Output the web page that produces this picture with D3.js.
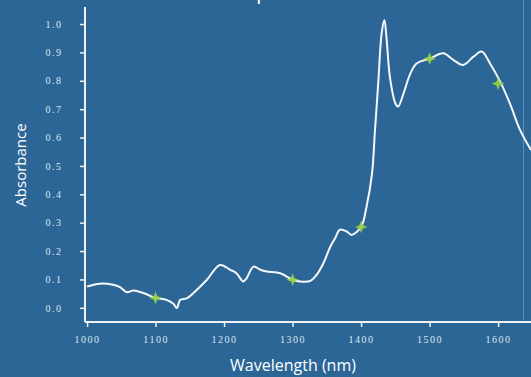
<!DOCTYPE html>
<html>
<head>
<meta charset="utf-8">
<script src="https://cdn.jsdelivr.net/npm/d3@7"></script>
<style>
  html, body { margin: 0; padding: 0; background: #2d6798; }
  svg { display: block; }
</style>
</head>
<body>
<div id="chart"></div>
<script>
// Spectrum
const wavelengths = [1000, 1019, 1038, 1048, 1058, 1068, 1082, 1100, 1116, 1126, 1131, 1136, 1146, 1160, 1175, 1194,
  1209, 1218, 1228, 1233, 1243, 1253, 1262, 1282, 1300, 1311, 1326, 1335, 1345, 1355, 1362, 1369, 1379, 1386, 1400,
  1408, 1416, 1420, 1425, 1430, 1434, 1437, 1442, 1450, 1454, 1462, 1472, 1481, 1500, 1520, 1535, 1549, 1564, 1576,
  1588, 1603, 1617, 1632, 1648];
const absorbance = [0.075, 0.085, 0.081, 0.073, 0.055, 0.061, 0.052, 0.035, 0.028, 0.014, -0.001, 0.028, 0.034, 0.063, 0.099, 0.151,
  0.134, 0.122, 0.093, 0.105, 0.145, 0.134, 0.128, 0.122, 0.099, 0.093, 0.095, 0.116, 0.157, 0.215, 0.245, 0.275, 0.269, 0.257, 0.285,
  0.357, 0.474, 0.615, 0.791, 0.967, 1.014, 0.955, 0.814, 0.721, 0.709, 0.756, 0.826, 0.861, 0.878, 0.897, 0.873, 0.856, 0.885, 0.903,
  0.862, 0.797, 0.721, 0.627, 0.556];

// Highlighted wavelengths (green stars)
const markerWavelengths = [1100, 1300, 1400, 1500, 1600];
const markerValues = [0.035, 0.099, 0.285, 0.878, 0.79];

const xTicks = [1000, 1100, 1200, 1300, 1400, 1500, 1600];
const yTicks = [0, 0.1, 0.2, 0.3, 0.4, 0.5, 0.6, 0.7, 0.8, 0.9, 1.0];

const width = 531, height = 377;

const svg = d3.select('#chart').append('svg')
    .attr('width', width)
    .attr('height', height);

svg.append('rect')
    .attr('width', width)
    .attr('height', height)
    .attr('fill', '#2c6697');

const x = d3.scaleLinear().domain([997, 1648]).range([85, 531]);
const y = d3.scaleLinear().domain([-0.05, 1.06]).range([322, 7]);

// title, cropped by the top edge in the source; only a descender shows
svg.append('text')
    .attr('x', 244)
    .attr('y', -1)
    .attr('fill', '#ffffff')
    .style('font-family', '"Open Sans", sans-serif')
    .style('font-size', '22px')
    .text('Spectrum');

// faint frame line on the right
svg.append('line')
    .attr('x1', 523.5).attr('x2', 523.5)
    .attr('y1', 0).attr('y2', 320)
    .attr('stroke', '#5f8fb8')
    .attr('stroke-width', 1);

// axes
const xAxis = svg.append('g')
    .attr('transform', 'translate(0,322)')
    .call(d3.axisBottom(x).tickValues(xTicks).tickSize(5).tickPadding(9)
        .tickFormat(d3.format('d')).tickSizeOuter(0));
const yAxis = svg.append('g')
    .attr('transform', 'translate(85,0)')
    .call(d3.axisLeft(y).tickValues(yTicks).tickSize(5).tickPadding(20)
        .tickFormat(d3.format('.1f')).tickSizeOuter(0));

[xAxis, yAxis].forEach(function(ax) {
    ax.select('.domain').attr('stroke', '#eef3f8').attr('stroke-width', 2);
    ax.selectAll('.tick line').attr('stroke', '#eef3f8').attr('stroke-width', 1.5);
    ax.selectAll('.tick text')
        .attr('fill', '#dde7f0')
        .style('font-family', '"Liberation Serif", serif')
        .style('font-size', '10px')
        .style('letter-spacing', '1.5px');
});
yAxis.selectAll('.tick text').attr('text-anchor', 'middle').attr('x', -31);
xAxis.select('.domain').attr('d', 'M85,0H531');
yAxis.select('.domain').attr('d', 'M0,7V322');

// axis titles
svg.append('text')
    .attr('x', 293)
    .attr('y', 371)
    .attr('text-anchor', 'middle')
    .attr('fill', '#ffffff')
    .style('font-family', '"Open Sans", sans-serif')
    .style('font-size', '16px')
    .text('Wavelength (nm)');

svg.append('text')
    .attr('transform', 'translate(26,165) rotate(-90)')
    .attr('text-anchor', 'middle')
    .attr('fill', '#ffffff')
    .style('font-family', '"Open Sans", sans-serif')
    .style('font-size', '15px')
    .text('Absorbance');

// spectrum line
const points = wavelengths.map(function(w, i) { return [w, absorbance[i]]; });
const line = d3.line()
    .x(function(d) { return x(d[0]); })
    .y(function(d) { return y(d[1]); })
    .curve(d3.curveCatmullRom.alpha(0.5));

svg.append('path')
    .datum(points)
    .attr('d', line)
    .attr('fill', 'none')
    .attr('stroke', '#f4f8fb')
    .attr('stroke-width', 2);

// four-point star symbol
const star4 = {
    draw: function(context, size) {
        const r = Math.sqrt(size) * 0.9, w = r * 0.28;
        context.moveTo(0, -r);
        context.lineTo(w, -w);
        context.lineTo(r, 0);
        context.lineTo(w, w);
        context.lineTo(0, r);
        context.lineTo(-w, w);
        context.lineTo(-r, 0);
        context.lineTo(-w, -w);
        context.closePath();
    }
};

svg.selectAll('.marker')
    .data(markerWavelengths)
    .enter()
    .append('path')
    .attr('class', 'marker')
    .attr('transform', function(d, i) { return 'translate(' + x(d) + ',' + y(markerValues[i]) + ')'; })
    .attr('d', d3.symbol().type(star4).size(50))
    .attr('fill', '#97d146')
    .attr('opacity', 0.9);
</script>
</body>
</html>
